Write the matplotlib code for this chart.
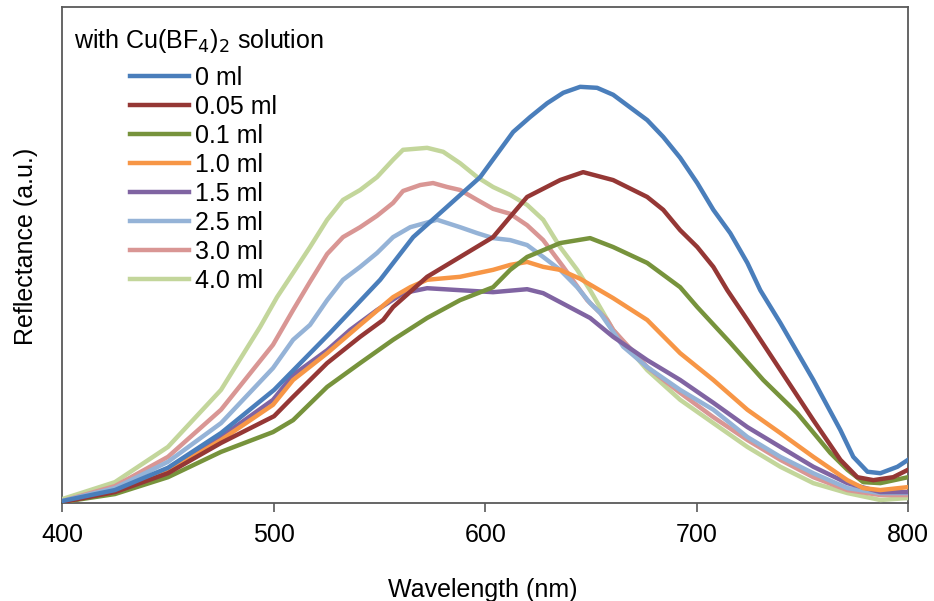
import matplotlib.pyplot as plt

plt.rcParams['font.family'] = ['Liberation Sans', 'DejaVu Sans']

labels = ['0 ml', '0.05 ml', '0.1 ml', '1.0 ml', '1.5 ml', '2.5 ml', '3.0 ml', '4.0 ml']
colors = ['#4A7EBB', '#953735', '#77933C', '#F79646', '#8064A2', '#95B3D7', '#D99694', '#C3D69B']

# wavelength (nm) / reflectance (a.u.) pairs
wl_0 = [400, 424.8, 449.9, 475, 500.1, 526.6, 550.3, 565.9, 581.9, 597.6, 613.2, 621.2, 629.3, 636.9,
        644.9, 652.9, 660.5, 676.6, 684.2, 692.2, 700.3, 707.9, 715.9, 724.0, 730.1, 739.6, 755.2,
        768.0, 774.1, 780.8, 786.9, 795.0, 800]
r_0 = [0.4, 2.6, 7.1, 14.1, 22.8, 34.3, 45.0, 53.6, 59.7, 65.7, 74.8, 77.8, 80.6, 82.7,
       83.9, 83.7, 82.3, 77.2, 73.8, 69.6, 64.5, 59.1, 54.4, 48.4, 42.9, 36.3, 24.8,
       14.7, 9.3, 6.3, 6.0, 7.3, 8.7]

wl_005 = [400, 424.8, 449.9, 475, 500.1, 509.1, 525.2, 540.8, 551.7, 556.4, 572.5, 588.1, 603.7, 611.8,
          619.8, 635.4, 646.3, 660.5, 676.6, 684.2, 692.2, 700.3, 707.9, 714.5, 724.0, 739.6, 755.2,
          768.0, 776.0, 783.6, 793.0, 800]
r_005 = [0.2, 2.2, 6.0, 12.1, 17.5, 21.4, 28.2, 33.5, 36.9, 39.5, 45.6, 49.6, 53.6, 57.7,
         61.7, 65.1, 66.7, 65.1, 61.7, 59.1, 55.0, 51.6, 47.6, 42.9, 36.9, 26.8, 16.7,
         8.7, 5.2, 4.6, 5.2, 6.7]

wl_01 = [400, 424.8, 449.9, 475, 499.6, 509.1, 525.2, 540.8, 556.4, 572.5, 588.1, 603.7, 611.8, 619.8,
         635.4, 649.6, 660.5, 676.6, 692.2, 700.3, 715.9, 731.5, 747.6, 763.2, 771.3, 778.8, 786.9, 800]
r_01 = [0.2, 1.8, 5.2, 10.3, 14.3, 16.7, 23.4, 28.2, 32.9, 37.3, 40.9, 43.5, 47.0, 49.6,
        52.4, 53.4, 51.6, 48.4, 43.5, 39.5, 32.3, 24.8, 18.1, 10.1, 6.7, 4.2, 4.0, 5.2]

wl_10 = [400, 424.8, 449.9, 475, 499.6, 509.1, 525.2, 540.8, 556.4, 564.5, 572.5, 588.1, 603.7, 611.8,
         619.8, 627.4, 635.4, 644.9, 660.5, 676.6, 692.2, 707.9, 724.0, 739.6, 755.2, 771.3, 778.8,
         786.9, 800]
r_10 = [0.2, 2.2, 6.3, 12.7, 19.8, 24.8, 30.2, 35.9, 41.5, 43.5, 45.0, 45.6, 47.0, 48.0,
        48.6, 47.6, 47.0, 45.2, 41.3, 36.9, 30.2, 24.8, 18.8, 14.1, 9.3, 4.6, 3.0,
        2.6, 3.2]

wl_15 = [400, 424.8, 449.9, 475, 499.6, 509.1, 525.2, 536.1, 548.8, 561.1, 572.5, 588.1, 603.7, 619.8,
         627.4, 635.4, 649.6, 660.5, 676.6, 692.2, 707.9, 724.0, 739.6, 755.2, 771.3, 786.9, 800]
r_15 = [0.2, 2.4, 6.9, 13.3, 20.8, 25.8, 30.8, 34.9, 38.9, 42.3, 43.3, 42.9, 42.5, 43.1,
        42.3, 40.5, 37.3, 33.5, 28.8, 24.8, 20.2, 15.3, 11.3, 7.3, 4.0, 2.2, 2.2]

wl_25 = [400, 424.8, 449.9, 475, 499.6, 509.1, 517.1, 525.2, 532.7, 540.8, 548.8, 556.4, 564.5, 577.2,
         588.1, 596.2, 603.7, 611.8, 619.8, 627.4, 635.4, 643.5, 649.6, 654.4, 665.3, 676.6, 692.2,
         707.9, 724.0, 739.6, 755.2, 771.3, 786.9, 800]
r_25 = [0.4, 3.0, 8.3, 16.1, 27.2, 32.9, 35.9, 40.9, 45.0, 47.6, 50.4, 53.6, 55.6, 57.1,
        55.6, 54.4, 53.4, 53.0, 52.0, 49.6, 47.0, 43.5, 40.3, 38.3, 31.5, 27.4, 22.8,
        18.8, 13.3, 9.3, 6.0, 3.0, 2.0, 2.0]

wl_30 = [400, 424.8, 449.9, 475, 499.6, 509.1, 517.1, 525.2, 532.7, 540.8, 548.8, 556.4, 561.1, 569.2,
         575.3, 582.0, 588.1, 596.2, 603.7, 611.8, 619.8, 627.4, 636.9, 648.2, 657.7, 660.5, 676.6,
         692.2, 707.9, 724.0, 739.6, 755.2, 771.3, 786.9, 800]
r_30 = [0.4, 3.4, 9.3, 18.8, 31.9, 38.9, 44.6, 50.2, 53.6, 55.6, 57.9, 60.5, 62.9, 64.1,
        64.5, 63.7, 63.1, 61.1, 59.3, 58.3, 56.0, 53.0, 47.6, 40.9, 36.9, 34.9, 27.4,
        22.2, 17.3, 12.7, 8.7, 5.2, 2.6, 1.6, 1.6]

wl_40 = [400, 424.8, 449.9, 475, 493.5, 501.5, 509.1, 517.1, 525.2, 532.7, 540.8, 548.8, 556.4, 561.1,
         572.5, 580.1, 588.1, 596.2, 603.7, 611.8, 619.8, 627.4, 635.4, 643.5, 649.6, 660.5, 668.6,
         676.6, 692.2, 707.9, 724.0, 739.6, 755.2, 771.3, 786.9, 800]
r_40 = [0.8, 4.2, 11.3, 22.8, 35.5, 41.5, 46.4, 51.6, 57.1, 61.1, 63.1, 65.7, 69.2, 71.2,
        71.6, 70.8, 68.5, 65.7, 63.7, 62.1, 60.1, 57.1, 51.6, 47.0, 42.9, 34.9, 30.8,
        26.8, 20.8, 16.1, 11.3, 7.3, 4.0, 2.0, 0.6, 1.0]

wavelengths = [wl_0, wl_005, wl_01, wl_10, wl_15, wl_25, wl_30, wl_40]
reflectance = [r_0, r_005, r_01, r_10, r_15, r_25, r_30, r_40]
xticks = [400, 500, 600, 700, 800]

FS = 18

fig = plt.figure(figsize=(9.34, 6.01), dpi=100)
ax = fig.add_axes([0.0669, 0.1631, 0.9053, 0.8253])

# draw the last series first so the early ones sit on top, like the original
for i in range(len(labels) - 1, -1, -1):
    ax.plot(wavelengths[i], reflectance[i], color=colors[i], lw=3.2,
            solid_joinstyle='round', label=labels[i], zorder=3 + (len(labels) - i) * 0.01)

ax.set_xlim(400, 800)
ax.set_ylim(0, 100)
ax.set_xticks(xticks)
ax.set_yticks([])
ax.tick_params(axis='x', direction='out', length=6.5, width=1.2, color='#595959',
               labelsize=FS, pad=8)
for s in ax.spines.values():
    s.set_color('#595959')
    s.set_linewidth(1.3)

ax.set_xlabel('Wavelength (nm)', fontsize=FS)
ax.set_ylabel('Reflectance (a.u.)', fontsize=FS)
ax.xaxis.set_label_coords(0.497, -0.151)
ax.yaxis.set_label_coords(-0.029, 0.518)

fig.text(74 / 934, 1 - 48 / 601, 'with Cu(BF$_4$)$_2$ solution', fontsize=FS,
         ha='left', va='baseline')

handles, labs = ax.get_legend_handles_labels()
handles = handles[::-1]
labs = labs[::-1]
ax.legend(handles, labs, loc='upper left', bbox_to_anchor=(130 / 934, 1 - 66 / 601),
          bbox_transform=fig.transFigure, frameon=False, fontsize=FS,
          handlelength=2.35, handletextpad=0.25, labelspacing=0.2, borderpad=0,
          borderaxespad=0)

fig.savefig('out.png', dpi=100)
